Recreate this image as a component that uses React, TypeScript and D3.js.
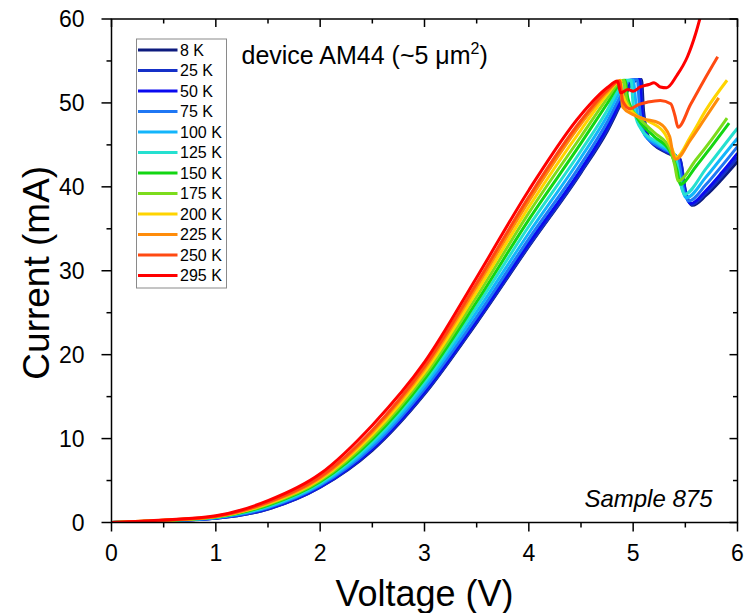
import React from 'react'
import * as d3 from 'd3'

// legend labels + colours (Origin rainbow)
const temps = ['8 K', '25 K', '50 K', '75 K', '100 K', '125 K', '150 K', '175 K', '200 K', '225 K', '250 K', '295 K']
const colors = ['#0d1b7e', '#1530c8', '#0a0af0', '#1f77f4', '#12b5fb', '#25e0d0', '#13d613', '#7cdc1c', '#ffd400', '#ff8c0a', '#ff4a12', '#ff0000']

const xTicks = [0, 1, 2, 3, 4, 5, 6]
const yTicks = [0, 10, 20, 30, 40, 50, 60]

// common voltage grid for the rising part of every sweep
const riseV = [0, 0.5, 1, 1.5, 2, 2.5, 3, 3.5, 4, 4.5]

const rise8K = [0, 0.2, 0.5, 1.6, 4.2, 8.6, 15.3, 23.8, 32.9, 41.7]
const rise25K = [0, 0.2, 0.5, 1.6, 4.2, 8.7, 15.4, 23.9, 33.0, 41.8]
const rise50K = [0, 0.2, 0.55, 1.7, 4.3, 8.8, 15.6, 24.1, 33.3, 42.1]
const rise75K = [0, 0.2, 0.55, 1.75, 4.4, 9.0, 15.9, 24.5, 33.8, 42.7]
const rise100K = [0, 0.2, 0.6, 1.85, 4.55, 9.3, 16.3, 25.1, 34.5, 43.5]
const rise125K = [0, 0.22, 0.62, 1.95, 4.7, 9.6, 16.7, 25.7, 35.3, 44.3]
const rise150K = [0, 0.24, 0.65, 2.05, 4.85, 9.9, 17.1, 26.3, 36.1, 45.2]
const rise175K = [0, 0.25, 0.68, 2.15, 5.0, 10.2, 17.5, 26.9, 36.9, 46.0]
const rise200K = [0, 0.26, 0.7, 2.25, 5.15, 10.5, 17.9, 27.5, 37.6, 46.8]
const rise225K = [0, 0.27, 0.72, 2.35, 5.3, 10.8, 18.3, 28.1, 38.3, 47.5]
const rise250K = [0, 0.28, 0.74, 2.42, 5.45, 11.0, 18.6, 28.5, 38.8, 47.9]
const rise295K = [0, 0.3, 0.8, 2.6, 5.8, 11.6, 19.1, 29.2, 39.6, 48.6]

// peak + negative differential resistance region, [V, mA]
const tail8K = [[4.75, 46.6], [4.9, 50.3], [5.0, 52.5], [5.08, 52.8], [5.1, 49.0], [5.16, 45.6], [5.3, 44.2], [5.45, 43.2], [5.5, 39.5], [5.57, 37.8], [5.7, 39.0], [5.85, 40.9], [6.0, 43.0]]
const tail25K = [[4.75, 46.8], [4.9, 50.5], [5.0, 52.6], [5.07, 52.8], [5.09, 49.2], [5.15, 45.7], [5.3, 44.3], [5.45, 43.3], [5.5, 39.6], [5.56, 37.9], [5.7, 39.3], [5.85, 41.3], [6.0, 43.5]]
const tail50K = [[4.75, 47.1], [4.9, 50.8], [4.98, 52.7], [5.06, 52.8], [5.08, 49.4], [5.14, 45.8], [5.3, 44.4], [5.44, 43.3], [5.49, 39.7], [5.55, 38.0], [5.7, 39.6], [5.85, 41.7], [6.0, 44.0]]
const tail75K = [[4.75, 47.7], [4.9, 51.3], [4.97, 52.7], [5.04, 52.8], [5.06, 49.6], [5.12, 46.0], [5.28, 44.6], [5.43, 43.4], [5.48, 39.9], [5.53, 38.3], [5.7, 40.3], [5.85, 42.5], [6.0, 44.8]]
const tail100K = [[4.75, 48.4], [4.9, 51.9], [4.96, 52.7], [5.0, 52.7], [5.03, 49.5], [5.1, 46.4], [5.25, 45.0], [5.4, 43.6], [5.46, 40.2], [5.51, 38.7], [5.7, 41.2], [5.85, 43.5], [6.0, 45.8]]
const tail125K = [[4.75, 49.1], [4.88, 52.0], [4.93, 52.7], [4.98, 52.7], [5.0, 49.8], [5.08, 46.8], [5.25, 45.2], [5.4, 43.8], [5.45, 40.6], [5.49, 39.1], [5.7, 42.2], [5.85, 44.6], [6.0, 47.0]]
const tail150K = [[4.75, 49.9], [4.88, 52.4], [4.92, 52.7], [4.95, 50.5], [5.05, 48.0], [5.2, 46.0], [5.35, 44.3], [5.42, 42.0], [5.45, 40.3], [5.6, 42.4], [5.75, 44.8], [5.92, 47.6]]
const tail175K = [[4.75, 50.5], [4.88, 52.6], [4.91, 52.7], [4.94, 50.2], [5.05, 48.3], [5.2, 46.5], [5.35, 44.6], [5.4, 42.5], [5.43, 40.7], [5.6, 43.2], [5.75, 45.6], [5.9, 48.2]]
const tail200K = [[4.75, 51.0], [4.88, 52.7], [4.9, 51.0], [5.0, 48.8], [5.15, 47.8], [5.3, 46.4], [5.37, 44.6], [5.41, 43.5], [5.55, 46.0], [5.7, 49.2], [5.9, 52.7]]
const tail225K = [[4.75, 51.3], [4.87, 52.6], [4.9, 49.5], [5.0, 48.6], [5.1, 48.1], [5.25, 47.6], [5.35, 46.0], [5.38, 44.0], [5.41, 43.3], [5.55, 45.6], [5.68, 48.0], [5.82, 50.6]]
const tail250K = [[4.75, 51.5], [4.87, 52.6], [4.9, 50.2], [4.97, 49.3], [5.05, 49.8], [5.14, 50.1], [5.26, 50.3], [5.36, 49.9], [5.4, 48.5], [5.43, 47.1], [5.55, 49.8], [5.67, 52.5], [5.81, 55.5]]
const tail295K = [[4.75, 51.8], [4.85, 52.6], [4.88, 51.2], [4.95, 51.6], [5.0, 51.4], [5.07, 51.9], [5.15, 52.2], [5.2, 52.4], [5.26, 51.9], [5.32, 51.8], [5.42, 53.3], [5.52, 55.5], [5.6, 58.3], [5.66, 61.0]]

const rises = [rise8K, rise25K, rise50K, rise75K, rise100K, rise125K, rise150K, rise175K, rise200K, rise225K, rise250K, rise295K]
const tails = [tail8K, tail25K, tail50K, tail75K, tail100K, tail125K, tail150K, tail175K, tail200K, tail225K, tail250K, tail295K]

const font = '"Liberation Sans", Arial, sans-serif'

export default function App() {
  const width = 744
  const height = 613
  const margin = { top: 19, right: 6.5, bottom: 90.5, left: 111.5 }
  const innerW = width - margin.left - margin.right
  const innerH = height - margin.top - margin.bottom

  const x = d3.scaleLinear().domain([0, 6]).range([0, innerW])
  const y = d3.scaleLinear().domain([0, 60]).range([innerH, 0])

  const line = d3.line<number[]>()
    .x(d => x(d[0]))
    .y(d => y(d[1]))
    .curve(d3.curveMonotoneX)

  const series = temps.map((t, i) => ({
    label: t,
    color: colors[i],
    pts: [...riseV.map((v, j) => [v, rises[i][j]]), ...tails[i]]
  }))

  const minorX = d3.range(0.5, 6, 1)
  const minorY = d3.range(5, 60, 10)

  return (
    <svg width={width} height={height} style={{ position: 'absolute', left: 0, top: 0, background: '#fff' }}
      fontFamily={font}>
      <defs>
        <clipPath id="plot">
          <rect x={0} y={0} width={innerW} height={innerH} />
        </clipPath>
      </defs>
      <g transform={`translate(${margin.left},${margin.top})`}>
        <g clipPath="url(#plot)">
          {series.map(s => (
            <path key={s.label} d={line(s.pts) || ''} fill="none" stroke={s.color} strokeWidth={3}
              strokeLinejoin="round" />
          ))}
        </g>

        {/* frame */}
        <rect x={0} y={0} width={innerW} height={innerH} fill="none" stroke="#000" strokeWidth={1.5} />

        {/* bottom axis: outward ticks, top: inward */}
        {xTicks.map(t => (
          <g key={'xb' + t}>
            <line x1={x(t)} x2={x(t)} y1={innerH} y2={innerH + 9} stroke="#000" strokeWidth={1.5} />
            <line x1={x(t)} x2={x(t)} y1={0} y2={8} stroke="#000" strokeWidth={1.5} />
            <text x={x(t)} y={innerH + 38} textAnchor="middle" fontSize={23}>{t}</text>
          </g>
        ))}
        {minorX.map(t => (
          <g key={'xm' + t}>
            <line x1={x(t)} x2={x(t)} y1={innerH} y2={innerH + 5} stroke="#000" strokeWidth={1.5} />
            <line x1={x(t)} x2={x(t)} y1={0} y2={4.5} stroke="#000" strokeWidth={1.5} />
          </g>
        ))}

        {/* left axis outward, right inward */}
        {yTicks.map(t => (
          <g key={'yl' + t}>
            <line x1={-10} x2={0} y1={y(t)} y2={y(t)} stroke="#000" strokeWidth={1.5} />
            <line x1={innerW - 8} x2={innerW} y1={y(t)} y2={y(t)} stroke="#000" strokeWidth={1.5} />
            <text x={-27} y={y(t)} dy="0.36em" textAnchor="end" fontSize={23}>{t}</text>
          </g>
        ))}
        {minorY.map(t => (
          <g key={'ym' + t}>
            <line x1={-5} x2={0} y1={y(t)} y2={y(t)} stroke="#000" strokeWidth={1.5} />
            <line x1={innerW - 4.5} x2={innerW} y1={y(t)} y2={y(t)} stroke="#000" strokeWidth={1.5} />
          </g>
        ))}

        {/* legend */}
        <g transform="translate(25,20)">
          <rect x={0} y={0} width={90} height={249} fill="#fff" stroke="#8a8a8a" strokeWidth={1} />
          {series.map((s, i) => (
            <g key={'lg' + s.label} transform={`translate(0,${11 + i * 20.5})`}>
              <line x1={1.5} x2={41} y1={0} y2={0} stroke={s.color} strokeWidth={3} />
              <text x={43.5} y={0} dy="0.36em" fontSize={16}>{s.label}</text>
            </g>
          ))}
        </g>

        <text x={130} y={45} fontSize={25}>
          device AM44 (~5 μm<tspan dy={-10} fontSize={16}>2</tspan><tspan dy={10}>)</tspan>
        </text>

        <text x={innerW - 25} y={innerH - 16} textAnchor="end" fontSize={24} fontStyle="italic">Sample 875</text>
      </g>

      <text x={margin.left + innerW / 2} y={606} textAnchor="middle" fontSize={36}>Voltage (V)</text>
      <text transform={`translate(49,${margin.top + innerH / 2 + 2}) rotate(-90)`} textAnchor="middle" fontSize={37}>Current (mA)</text>
    </svg>
  )
}
